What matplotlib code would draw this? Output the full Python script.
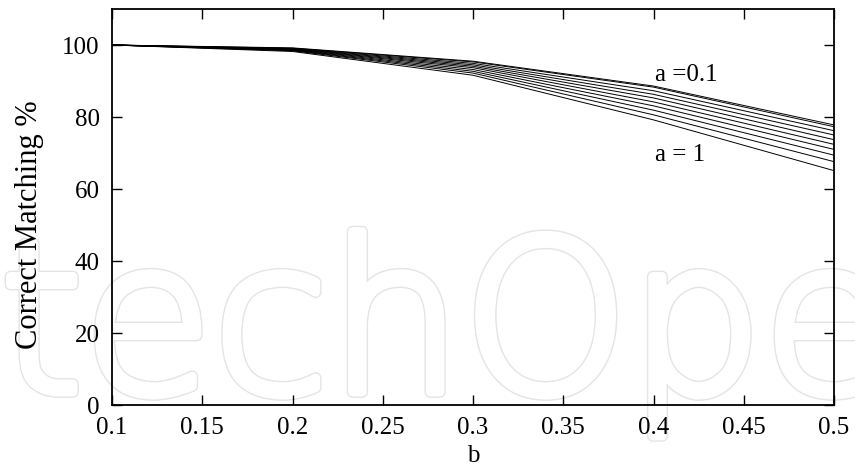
import matplotlib
matplotlib.use("Agg")
import matplotlib.pyplot as plt
import matplotlib.patheffects as pe

# Correct matching rate versus b, one curve per value of a
b_values = [0.1, 0.2, 0.3, 0.4, 0.5]
a_values = [0.1, 0.2, 0.3, 0.4, 0.5, 0.6, 0.7, 0.8, 0.9, 1.0]
matching = {
    0.1: [100.0, 99.2, 95.5, 88.6, 77.8],
    0.2: [100.0, 99.1, 95.3, 88.3, 77.3],
    0.3: [100.0, 99.0, 94.9, 87.3, 76.2],
    0.4: [100.0, 98.9, 94.5, 86.3, 75.0],
    0.5: [100.0, 98.8, 94.1, 85.3, 73.7],
    0.6: [100.0, 98.7, 93.7, 84.2, 72.4],
    0.7: [100.0, 98.6, 93.2, 83.1, 71.0],
    0.8: [100.0, 98.5, 92.7, 81.9, 69.4],
    0.9: [100.0, 98.4, 92.2, 80.6, 67.6],
    1.0: [100.0, 98.2, 91.6, 79.2, 65.1],
}
x_ticks = [0.1, 0.15, 0.2, 0.25, 0.3, 0.35, 0.4, 0.45, 0.5]
x_tick_labels = ["0.1", "0.15", "0.2", "0.25", "0.3", "0.35", "0.4", "0.45", "0.5"]
y_ticks = [0, 20, 40, 60, 80, 100]

plt.rcParams["font.family"] = ["Liberation Serif", "DejaVu Serif"]

fig = plt.figure(figsize=(8.55, 4.71), dpi=100)
ax = fig.add_axes([112 / 855, 1 - 405 / 471, (834 - 112) / 855, (405 - 9) / 471])
ax.set_facecolor("none")

# faint publisher mark behind the plot: hollow letters with a thin grey rim
fig.text(0 / 855, 1 - 392 / 471, "techOpen", fontsize=152,
         family="DejaVu Sans", fontweight=200,
         color="white", ha="left", va="baseline", zorder=-5,
         path_effects=[pe.Stroke(linewidth=8.5, foreground="#e4e4e4"),
                       pe.Stroke(linewidth=6.5, foreground="white"),
                       pe.Normal()])

for a in a_values:
    ax.plot(b_values, matching[a], color="black", linewidth=0.7)

ax.set_xlim(0.1, 0.5)
ax.set_ylim(0, 110)
ax.set_xticks(x_ticks)
ax.set_xticklabels(x_tick_labels)
ax.set_yticks(y_ticks)
ax.tick_params(direction="in", length=7, width=1, labelsize=18,
               top=True, right=True, pad=9)
for s in ax.spines.values():
    s.set_linewidth(1.3)

ax.set_xlabel("b", fontsize=18, labelpad=4)
ax.set_ylabel("Correct Matching %", fontsize=22)
ax.yaxis.set_label_coords(-0.094, 0.455)

ax.text(0.401, 91.6, "a =0.1", fontsize=18, ha="left", va="center")
ax.text(0.401, 69.4, "a = 1", fontsize=18, ha="left", va="center")

fig.savefig("out.png", dpi=100)
